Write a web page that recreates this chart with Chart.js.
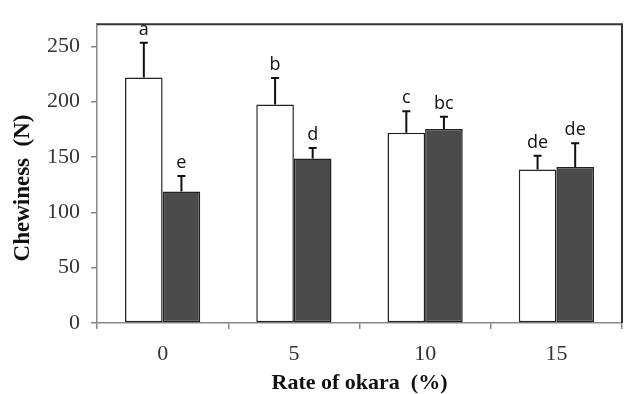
<!DOCTYPE html>
<html lang="en">
<head>
    <meta charset="UTF-8">
    <title>Chewiness chart</title>
    <script src="https://cdn.jsdelivr.net/npm/chart.js"></script>
    <style>
        html, body { margin: 0; padding: 0; background: #fff; }
        #wrap { width: 625px; height: 394px; }
    </style>
</head>
<body>
<div id="wrap"><canvas id="chewChart"></canvas></div>
<script>
    const categories = ['0', '5', '10', '15'];
    const whiteValues = [221.8, 197.4, 171.8, 138.7];
    const whiteErrors = [31.4, 24, 19.5, 12.5];
    const whiteLetters = ['a', 'b', 'c', 'de'];
    const darkValues = [118.9, 148.6, 175.3, 141];
    const darkErrors = [14, 9.6, 11, 21.5];
    const darkLetters = ['e', 'd', 'bc', 'de'];
    const yTicks = [0, 50, 100, 150, 200, 250];

    const errors = [whiteErrors, darkErrors];
    const letters = [whiteLetters, darkLetters];

    // error bars (upper only) and significance letters
    const errorBarPlugin = {
        id: 'errorBars',
        afterDatasetsDraw(chart) {
            const ctx = chart.ctx;
            const yScale = chart.scales.y;
            chart.data.datasets.forEach((ds, di) => {
                const meta = chart.getDatasetMeta(di);
                meta.data.forEach((bar, i) => {
                    const top = yScale.getPixelForValue(ds.data[i] + errors[di][i]);
                    ctx.save();
                    ctx.strokeStyle = '#111';
                    ctx.lineWidth = 2;
                    ctx.beginPath();
                    ctx.moveTo(bar.x, bar.y);
                    ctx.lineTo(bar.x, top);
                    ctx.moveTo(bar.x - 4, top);
                    ctx.lineTo(bar.x + 4, top);
                    ctx.stroke();
                    ctx.fillStyle = '#111';
                    ctx.font = '18px "Open Sans"';
                    ctx.textAlign = 'center';
                    ctx.textBaseline = 'alphabetic';
                    ctx.fillText(letters[di][i], bar.x, top - 8);
                    ctx.restore();
                });
            });
        }
    };

    // dark frame on top and right of the plot area
    const framePlugin = {
        id: 'frame',
        afterDraw(chart) {
            const { ctx, chartArea } = chart;
            ctx.save();
            ctx.strokeStyle = '#333';
            ctx.lineWidth = 2;
            ctx.beginPath();
            ctx.moveTo(chartArea.left, chartArea.top);
            ctx.lineTo(chartArea.right, chartArea.top);
            ctx.lineTo(chartArea.right, chartArea.bottom);
            ctx.stroke();
            ctx.restore();
        }
    };

    const ctx = document.getElementById('chewChart').getContext('2d');
    new Chart(ctx, {
        type: 'bar',
        data: {
            labels: categories,
            datasets: [
                {
                    label: 'Series 1',
                    data: whiteValues,
                    backgroundColor: '#ffffff',
                    borderColor: '#222',
                    borderWidth: 1.5,
                    borderSkipped: false
                },
                {
                    label: 'Series 2',
                    data: darkValues,
                    backgroundColor: '#4b4b4b',
                    borderColor: '#222',
                    borderWidth: 1.5,
                    borderSkipped: false
                }
            ]
        },
        options: {
            responsive: true,
            maintainAspectRatio: false,
            animation: false,
            layout: { padding: { top: 13, right: 3, left: 0, bottom: 0 } },
            datasets: { bar: { barPercentage: 1, categoryPercentage: 0.573 } },
            plugins: {
                legend: { display: false },
                tooltip: { enabled: false }
            },
            scales: {
                x: {
                    grid: { offset: true, drawOnChartArea: false, tickLength: 6, color: '#888', lineWidth: 1.5 },
                    border: { color: '#888', width: 1.5 },
                    ticks: { color: '#333', padding: 12, font: { family: '"Liberation Serif"', size: 22 } },
                    title: {
                        display: true,
                        text: 'Rate of okara  (%)',
                        color: '#111',
                        padding: { top: 0, bottom: 0 },
                        font: { family: '"Liberation Serif"', size: 22, weight: 'bold', lineHeight: 1 }
                    },
                    afterFit(scale) { scale.height = 71; }
                },
                y: {
                    min: 0,
                    max: 270,
                    afterBuildTicks(scale) { scale.ticks = yTicks.map(v => ({ value: v })); },
                    grid: { drawOnChartArea: false, tickLength: 6, color: '#888', lineWidth: 1.5 },
                    border: { color: '#888', width: 1.5 },
                    ticks: { color: '#333', padding: 11, font: { family: '"Liberation Serif"', size: 22 } },
                    title: {
                        display: true,
                        text: 'Chewiness  (N)     ',
                        color: '#111',
                        padding: { top: 12, bottom: 0 },
                        font: { family: '"Liberation Serif"', size: 23, weight: 'bold', lineHeight: 1 }
                    },
                    afterFit(scale) { scale.width = 97; }
                }
            }
        },
        plugins: [errorBarPlugin, framePlugin]
    });
</script>
</body>
</html>
